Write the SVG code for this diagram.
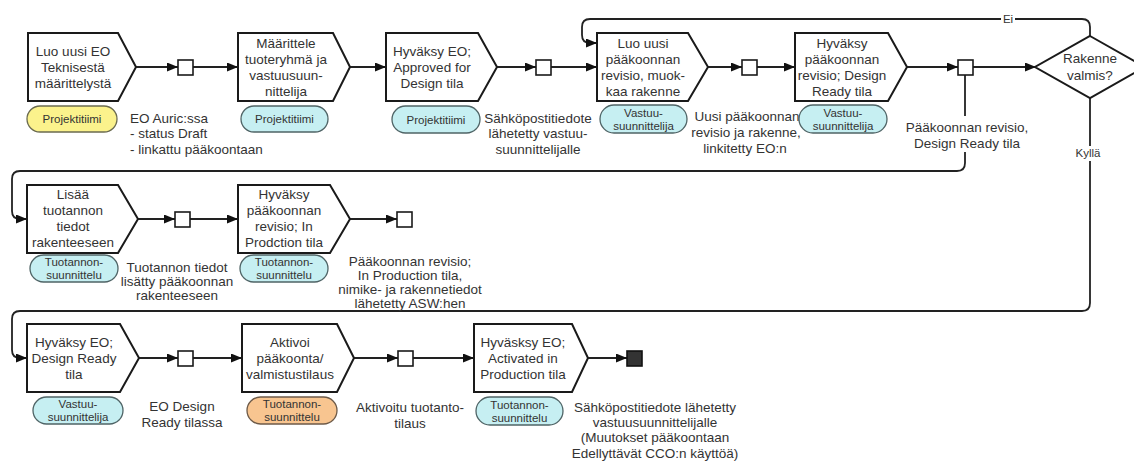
<svg xmlns="http://www.w3.org/2000/svg" width="1134" height="462" viewBox="0 0 1134 462">
<style>
.n{fill:#fff;stroke:#1a1a1a;stroke-width:2}
.t{font-family:"Liberation Sans",Arial,sans-serif;font-size:13.5px;fill:#333;text-anchor:middle}
.a{font-family:"Liberation Sans",Arial,sans-serif;font-size:13.5px;fill:#333;text-anchor:middle}
.al{font-family:"Liberation Sans",Arial,sans-serif;font-size:13.5px;fill:#333}
.pt{font-family:"Liberation Sans",Arial,sans-serif;font-size:11.5px;fill:#333;text-anchor:middle}
.lb{font-family:"Liberation Sans",Arial,sans-serif;font-size:11.5px;fill:#333;text-anchor:middle}
.y{fill:#fbf28c;stroke:#6b6b50;stroke-width:1.3}
.c{fill:#c6eff2;stroke:#4f6466;stroke-width:1.3}
.o{fill:#f8c590;stroke:#6d5a48;stroke-width:1.3}
.sq{fill:#fff;stroke:#1a1a1a;stroke-width:1.6}
.e{fill:#333;stroke:#111;stroke-width:1.6}
.l{fill:none;stroke:#222;stroke-width:1.8}
</style>
<defs>
<marker id="ar" markerUnits="userSpaceOnUse" markerWidth="11" markerHeight="9" refX="11" refY="4.5" orient="auto">
<path d="M0,0 L11,4.5 L0,9 z" fill="#111"/>
</marker>
</defs>

<g id="connectors">
<path class="l" d="M136 67 H178" marker-end="url(#ar)"/>
<path class="l" d="M193 67 H238" marker-end="url(#ar)"/>
<path class="l" d="M350 67 H386" marker-end="url(#ar)"/>
<path class="l" d="M497 67 H536" marker-end="url(#ar)"/>
<path class="l" d="M551 67 H597" marker-end="url(#ar)"/>
<path class="l" d="M708 67 H742" marker-end="url(#ar)"/>
<path class="l" d="M757 67 H795" marker-end="url(#ar)"/>
<path class="l" d="M907 67 H958" marker-end="url(#ar)"/>
<path class="l" d="M973 67 H1036" marker-end="url(#ar)"/>
<path class="l" d="M1090 36 V27 Q1090 19 1082 19 H590 Q582 19 582 27 V35 Q582 43 590 43 H597" marker-end="url(#ar)"/>
<path class="l" d="M965 75 V163 Q965 171 957 171 H20 Q12 171 12 179 V211 Q12 219 20 219 H27" marker-end="url(#ar)"/>
<path class="l" d="M138 219 H175" marker-end="url(#ar)"/>
<path class="l" d="M190 219 H238" marker-end="url(#ar)"/>
<path class="l" d="M350 219 H397" marker-end="url(#ar)"/>
<path class="l" d="M1090 98 V303 Q1090 311 1082 311 H20 Q12 311 12 319 V350 Q12 358 20 358 H27" marker-end="url(#ar)"/>
<path class="l" d="M139 358 H178" marker-end="url(#ar)"/>
<path class="l" d="M193 358 H242" marker-end="url(#ar)"/>
<path class="l" d="M354 358 H398" marker-end="url(#ar)"/>
<path class="l" d="M413 358 H474" marker-end="url(#ar)"/>
<path class="l" d="M588 358 H627" marker-end="url(#ar)"/>
<rect x="1001" y="12" width="14" height="14" fill="#fff"/>
<text class="lb" x="1008" y="23">Ei</text>
<rect x="1073" y="146" width="30" height="15" fill="#fff"/>
<text class="lb" x="1088" y="157">Kyllä</text>
</g>

<g id="n1">
<polygon class="n" points="28,33 118,33 136,67 118,101 28,101"/>
<text class="t" x="73" y="56">Luo uusi EO</text>
<text class="t" x="73" y="72">Teknisestä</text>
<text class="t" x="73" y="88">määrittelystä</text>
<rect class="y" x="27" y="106" width="90" height="26" rx="13"/>
<text class="pt" x="72" y="123">Projektitiimi</text>
</g>
<g id="s1">
<rect class="sq" x="178" y="60" width="15" height="15"/>
<text class="al" x="130" y="123">EO Auric:ssa</text>
<text class="al" x="130" y="138">- status Draft</text>
<text class="al" x="130" y="154">- linkattu pääkoontaan</text>
</g>

<g id="n2">
<polygon class="n" points="238,33 333,33 350,67 333,101 238,101"/>
<text class="t" x="286" y="48">Määrittele</text>
<text class="t" x="286" y="64">tuoteryhmä ja</text>
<text class="t" x="286" y="80">vastuusuun-</text>
<text class="t" x="286" y="96">nittelija</text>
<rect class="c" x="241" y="106" width="87" height="26" rx="13"/>
<text class="pt" x="284.5" y="123">Projektitiimi</text>
</g>

<g id="n3">
<polygon class="n" points="386,33 478,33 497,67 478,101 386,101"/>
<text class="t" x="432" y="56">Hyväksy EO;</text>
<text class="t" x="432" y="72">Approved for</text>
<text class="t" x="432" y="88">Design tila</text>
<rect class="c" x="392" y="106" width="88" height="27" rx="13.5"/>
<text class="pt" x="436" y="124">Projektitiimi</text>
</g>
<g id="s2">
<rect class="sq" x="536" y="60" width="15" height="15"/>
<text class="a" x="538" y="123">Sähköpostitiedote</text>
<text class="a" x="538" y="138">lähetetty vastuu-</text>
<text class="a" x="538" y="154">suunnittelijalle</text>
</g>

<g id="n4">
<polygon class="n" points="597,33 688,33 708,67 688,101 597,101"/>
<text class="t" x="643" y="48">Luo uusi</text>
<text class="t" x="643" y="64">pääkoonnan</text>
<text class="t" x="643" y="80">revisio, muok-</text>
<text class="t" x="643" y="96">kaa rakenne</text>
<rect class="c" x="600" y="105" width="87" height="28" rx="14"/>
<text class="pt" x="643.5" y="117">Vastuu-</text>
<text class="pt" x="643.5" y="130">suunnittelija</text>
</g>
<g id="s3">
<rect class="sq" x="742" y="60" width="15" height="15"/>
<text class="a" x="747" y="121">Uusi pääkoonnan</text>
<text class="a" x="746" y="137">revisio ja rakenne,</text>
<text class="a" x="745" y="153">linkitetty EO:n</text>
</g>

<g id="n5">
<polygon class="n" points="795,33 888,33 907,67 888,101 795,101"/>
<text class="t" x="842" y="48">Hyväksy</text>
<text class="t" x="842" y="64">pääkoonnan</text>
<text class="t" x="842" y="80">revisio; Design</text>
<text class="t" x="842" y="96">Ready tila</text>
<rect class="c" x="799" y="105" width="88" height="28" rx="14"/>
<text class="pt" x="843" y="117">Vastuu-</text>
<text class="pt" x="843" y="130">suunnittelija</text>
</g>
<g id="s4">
<rect class="sq" x="958" y="60" width="15" height="15"/>
<rect x="905" y="116" width="124" height="36" fill="#fff"/>
<text class="a" x="967" y="132">Pääkoonnan revisio,</text>
<text class="a" x="967" y="148">Design Ready tila</text>
</g>

<g id="d1">
<polygon class="n" points="1090,36 1145,67 1090,98 1035,67"/>
<text class="t" x="1090" y="63">Rakenne</text>
<text class="t" x="1090" y="80">valmis?</text>
</g>

<g id="n6">
<polygon class="n" points="27,185 118,185 138,219 118,253 27,253"/>
<text class="t" x="73" y="199">Lisää</text>
<text class="t" x="73" y="215">tuotannon</text>
<text class="t" x="73" y="231">tiedot</text>
<text class="t" x="73" y="247">rakenteeseen</text>
<rect class="c" x="30" y="255" width="88" height="27" rx="13.5"/>
<text class="pt" x="74" y="266">Tuotannon-</text>
<text class="pt" x="74" y="279">suunnittelu</text>
</g>
<g id="s5">
<rect class="sq" x="175" y="212" width="15" height="15"/>
<text class="a" x="177" y="272">Tuotannon tiedot</text>
<text class="a" x="177" y="286">lisätty pääkoonnan</text>
<text class="a" x="177" y="300">rakenteeseen</text>
</g>

<g id="n7">
<polygon class="n" points="238,185 330,185 350,219 330,253 238,253"/>
<text class="t" x="284" y="199">Hyväksy</text>
<text class="t" x="284" y="215">pääkoonnan</text>
<text class="t" x="284" y="231">revisio; In</text>
<text class="t" x="284" y="247">Prodction tila</text>
<rect class="c" x="240" y="255" width="88" height="27" rx="13.5"/>
<text class="pt" x="284" y="266">Tuotannon-</text>
<text class="pt" x="284" y="279">suunnittelu</text>
</g>
<g id="s6">
<rect class="sq" x="397" y="212" width="15" height="15"/>
<text class="a" x="410" y="266">Pääkoonnan revisio;</text>
<text class="a" x="410" y="280">In Production tila,</text>
<text class="a" x="410" y="294">nimike- ja rakennetiedot</text>
<text class="a" x="410" y="308">lähetetty ASW:hen</text>
</g>

<g id="n8">
<polygon class="n" points="27,324 120,324 139,358 120,392 27,392"/>
<text class="t" x="74" y="347">Hyväksy EO;</text>
<text class="t" x="74" y="363">Design Ready</text>
<text class="t" x="74" y="379">tila</text>
<rect class="c" x="33" y="397" width="90" height="27" rx="13.5"/>
<text class="pt" x="78" y="408">Vastuu-</text>
<text class="pt" x="78" y="421">suunnittelija</text>
</g>
<g id="s7">
<rect class="sq" x="178" y="351" width="15" height="15"/>
<text class="a" x="182" y="411">EO Design</text>
<text class="a" x="182" y="427">Ready tilassa</text>
</g>

<g id="n9">
<polygon class="n" points="242,324 337,324 354,358 337,392 242,392"/>
<text class="t" x="290" y="347">Aktivoi</text>
<text class="t" x="290" y="363">pääkoonta/</text>
<text class="t" x="290" y="379">valmistustilaus</text>
<rect class="o" x="247" y="397" width="90" height="27" rx="13.5"/>
<text class="pt" x="292" y="408">Tuotannon-</text>
<text class="pt" x="292" y="421">suunnittelu</text>
</g>
<g id="s8">
<rect class="sq" x="398" y="351" width="15" height="15"/>
<text class="a" x="410" y="412">Aktivoitu tuotanto-</text>
<text class="a" x="410" y="428">tilaus</text>
</g>

<g id="n10">
<polygon class="n" points="474,324 572,324 588,358 572,392 474,392"/>
<text class="t" x="523" y="347">Hyväsksy EO;</text>
<text class="t" x="523" y="363">Activated in</text>
<text class="t" x="523" y="379">Production tila</text>
<rect class="c" x="476" y="397" width="87" height="28" rx="14"/>
<text class="pt" x="519.5" y="409">Tuotannon-</text>
<text class="pt" x="519.5" y="422">suunnittelu</text>
</g>
<g id="end">
<rect class="e" x="627" y="351" width="15" height="15"/>
<text class="a" x="655" y="412">Sähköpostitiedote lähetetty</text>
<text class="a" x="655" y="427">vastuusuunnittelijalle</text>
<text class="a" x="655" y="442">(Muutokset pääkoontaan</text>
<text class="a" x="655" y="458">Edellyttävät CCO:n käyttöä)</text>
</g>
</svg>
